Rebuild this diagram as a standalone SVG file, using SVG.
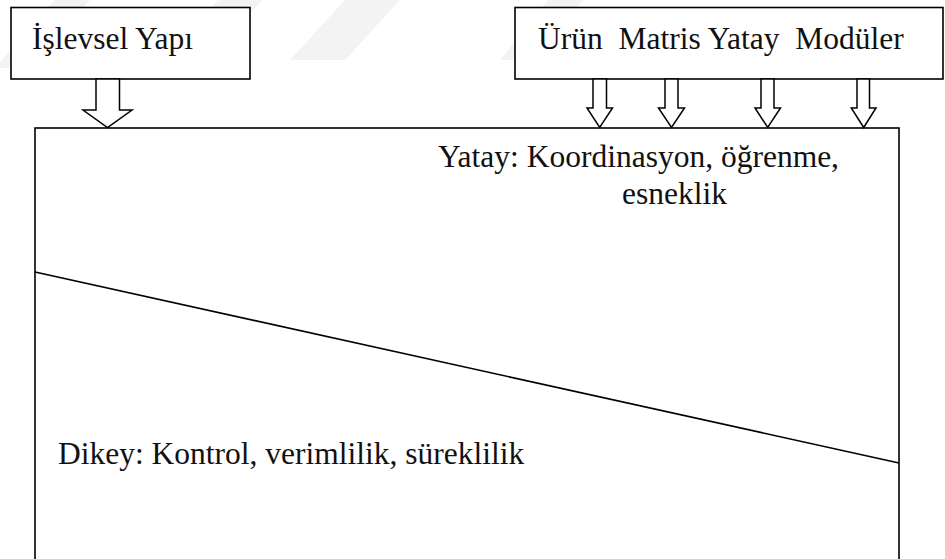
<svg xmlns="http://www.w3.org/2000/svg" width="945" height="559" viewBox="0 0 945 559">
  <style>
    .box { fill: #ffffff; stroke: #000000; stroke-width: 1.6; }
    .lbl { font-family: "Liberation Serif", "Times New Roman", serif; font-size: 31.5px; fill: #111111; white-space: pre; }
    .blk { fill: #ffffff; stroke: #000000; stroke-width: 1.5; stroke-linejoin: miter; }
    .div { fill: none; stroke: #000000; stroke-width: 1.6; }
    .wm { fill: #f3f3f3; }
  </style>
  <rect width="945" height="559" fill="#ffffff"/>

  <!-- faint background stripes -->
  <g id="watermark">
    <polygon class="wm" points="55,0 90,0 28,68 0,68 0,62"/>
    <polygon class="wm" points="218,0 262,0 205,62 165,62"/>
    <polygon class="wm" points="345,0 400,0 345,60 290,60"/>
    <polygon class="wm" points="548,0 584,0 528,60 500,60"/>
  </g>

  <!-- main area, split by a sloping line -->
  <g id="main">
    <rect class="box" x="35" y="128" width="864" height="460"/>
    <text class="lbl" x="438" y="167">Yatay: Koordinasyon, öğrenme,</text>
    <text class="lbl" x="622" y="204">esneklik</text>
    <text class="lbl" x="58" y="464">Dikey: Kontrol, verimlilik, süreklilik</text>
  </g>

  <g id="islevsel">
    <rect class="box" x="11" y="7.5" width="239" height="71.5"/>
    <text class="lbl" x="32" y="49">İşlevsel Yapı</text>
  </g>

  <g id="urun">
    <rect class="box" x="515" y="7.5" width="428" height="71.5"/>
    <text class="lbl" x="538" y="49">Ürün  Matris Yatay  Modüler</text>
  </g>

  <g id="connectors">
    <line class="div" x1="35" y1="272" x2="899" y2="463"/>
    <!-- wide block arrow from İşlevsel Yapı -->
    <polygon class="blk" points="96,79 119.5,79 119.5,110 132,110 107.5,127.5 83,110 96,110"/>
    <!-- narrow block arrows from the top-right box -->
    <polygon class="blk" points="593,79 606.5,79 606.5,108 612.5,108 599.7,127.5 587,108 593,108"/>
    <polygon class="blk" points="665,79 678,79 678,108 684.5,108 671.5,127.5 658.5,108 665,108"/>
    <polygon class="blk" points="761,79 774,79 774,108 780.5,108 767.7,127.5 755,108 761,108"/>
    <polygon class="blk" points="857,79 869.5,79 869.5,108 876,108 863.7,127.5 851.3,108 857,108"/>
  </g>
</svg>
